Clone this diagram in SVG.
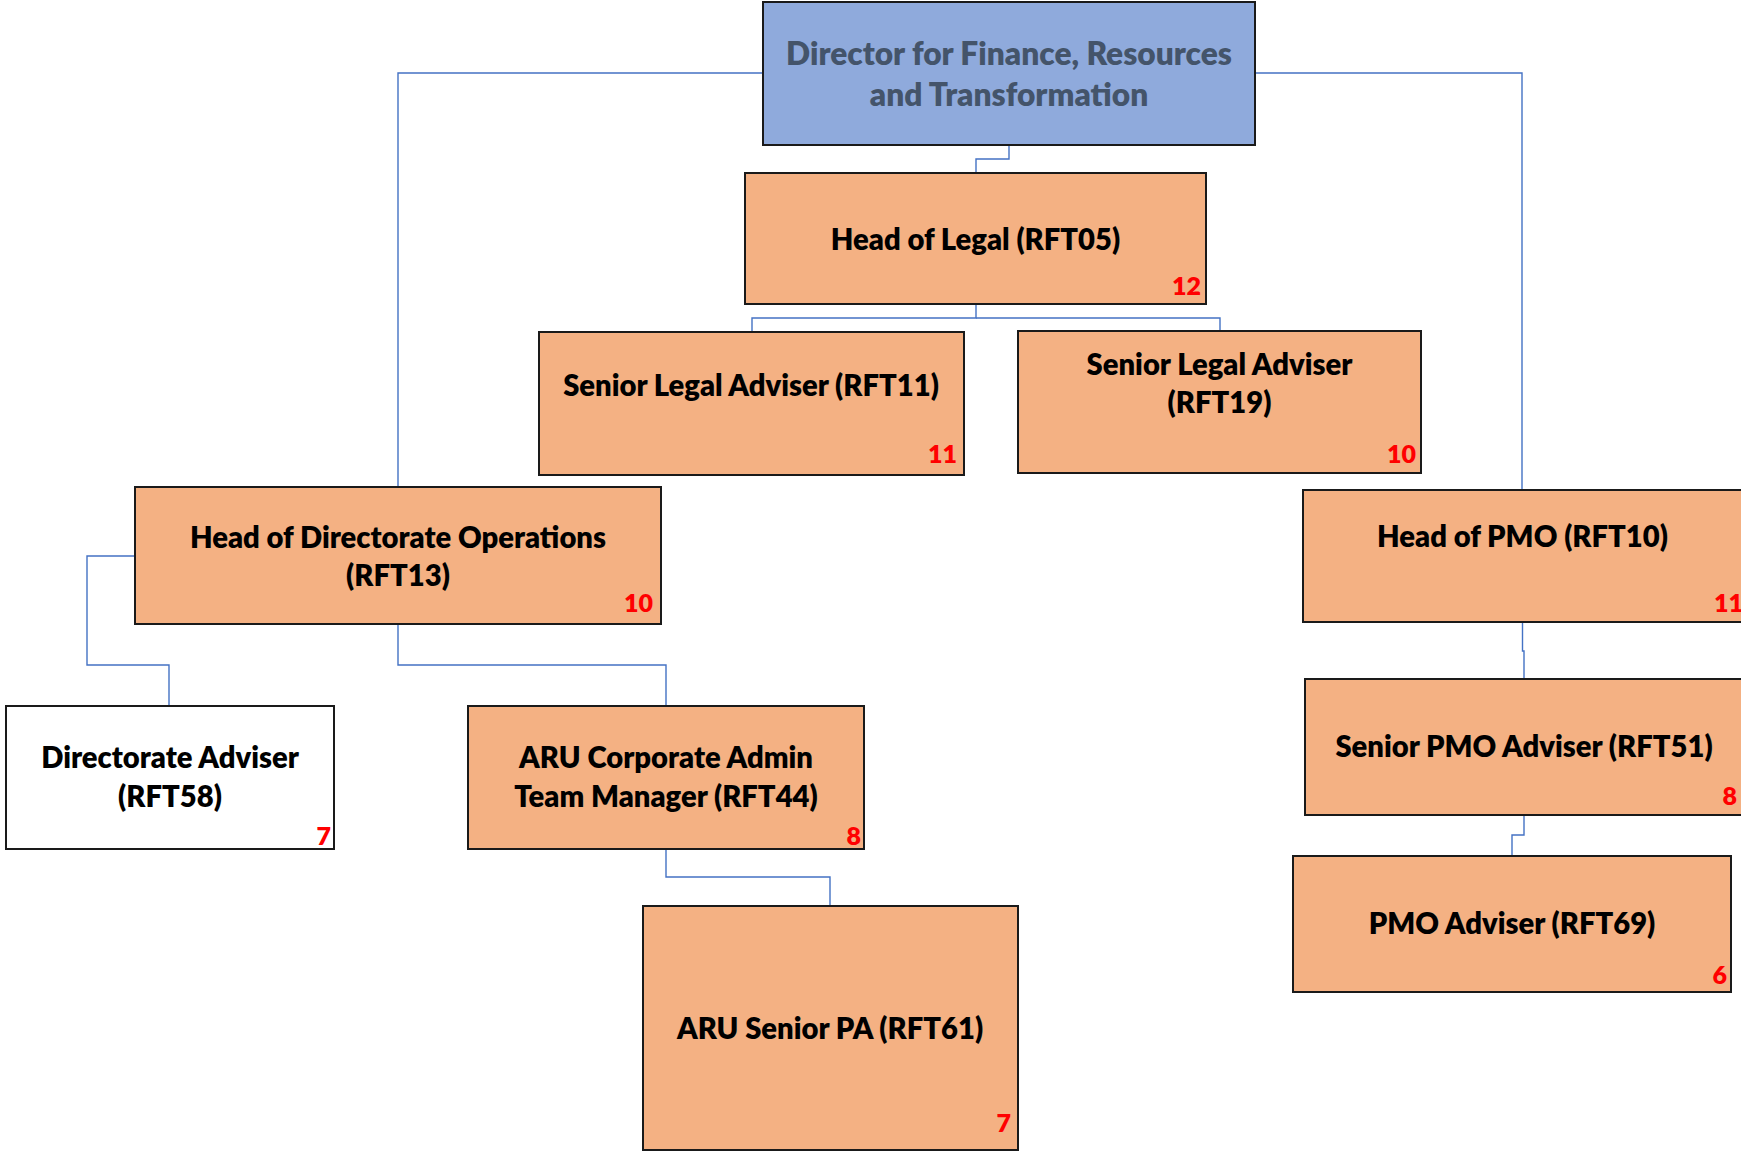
<svg xmlns="http://www.w3.org/2000/svg" width="1741" height="1153" viewBox="0 0 1741 1153">
<style>
.box{fill:#F4B183;stroke:#1a1a1a;stroke-width:2}
.dirbox{fill:#8FAADC;stroke:#1a1a1a;stroke-width:2}
.wbox{fill:#FFFFFF;stroke:#1a1a1a;stroke-width:2}
.t{font-family:Lato,"Liberation Sans",sans-serif;font-weight:800;font-size:29.2px;fill:#000;text-anchor:middle}
.dt{font-family:Lato,"Liberation Sans",sans-serif;font-weight:800;font-size:31.7px;fill:#44546A;text-anchor:middle}
.n{font-family:Lato,"Liberation Sans",sans-serif;font-weight:800;font-size:25px;fill:#FF0000;text-anchor:end}
.c{fill:none;stroke:#4472C4;stroke-width:1.4}
</style>
<rect width="1741" height="1153" fill="#FFFFFF"/>
<g id="connectors">
<path class="c" d="M1009 145 V159 H976 V173"/>
<path class="c" d="M976 304 V318 H752 V332"/>
<path class="c" d="M976 318 H1220 V331"/>
<path class="c" d="M763 73 H398 V487"/>
<path class="c" d="M1255 73 H1522 V490"/>
<path class="c" d="M1522.5 622 V651 H1524 V679"/>
<path class="c" d="M1524 815 V835 H1512 V856"/>
<path class="c" d="M135 556 H87 V665 H169 V706"/>
<path class="c" d="M398 624 V665 H666 V706"/>
<path class="c" d="M666 849 V877 H830 V906"/>
</g>
<g id="director">
<rect class="dirbox" x="763" y="2" width="492" height="143"/>
<text class="dt" x="1009" y="64.5">Director for Finance, Resources</text>
<text class="dt" x="1009" y="105.5">and Transformation</text>
</g>
<g id="head-legal">
<rect class="box" x="745" y="173" width="461" height="131"/>
<text class="t" x="975.5" y="250">Head of Legal (RFT05)</text>
<text class="n" x="1201" y="295">12</text>
</g>
<g id="senior-legal-11">
<rect class="box" x="539" y="332" width="425" height="143"/>
<text class="t" x="751" y="396">Senior Legal Adviser (RFT11)</text>
<text class="n" x="957" y="463">11</text>
</g>
<g id="senior-legal-19">
<rect class="box" x="1018" y="331" width="403" height="142"/>
<text class="t" x="1219.5" y="375">Senior Legal Adviser</text>
<text class="t" x="1219.5" y="413">(RFT19)</text>
<text class="n" x="1416" y="463">10</text>
</g>
<g id="head-directorate-ops">
<rect class="box" x="135" y="487" width="526" height="137"/>
<text class="t" x="398" y="548">Head of Directorate Operations</text>
<text class="t" x="398" y="586">(RFT13)</text>
<text class="n" x="653" y="612">10</text>
</g>
<g id="head-pmo">
<rect class="box" x="1303" y="490" width="446" height="132"/>
<text class="t" x="1522.5" y="547">Head of PMO (RFT10)</text>
<text class="n" x="1743" y="612">11</text>
</g>
<g id="senior-pmo">
<rect class="box" x="1305" y="679" width="444" height="136"/>
<text class="t" x="1524" y="757">Senior PMO Adviser (RFT51)</text>
<text class="n" x="1737" y="805">8</text>
</g>
<g id="pmo-adviser">
<rect class="box" x="1293" y="856" width="438" height="136"/>
<text class="t" x="1512" y="934">PMO Adviser (RFT69)</text>
<text class="n" x="1727" y="984">6</text>
</g>
<g id="directorate-adviser">
<rect class="wbox" x="6" y="706" width="328" height="143"/>
<text class="t" x="170" y="768">Directorate Adviser</text>
<text class="t" x="170" y="807">(RFT58)</text>
<text class="n" x="331" y="845">7</text>
</g>
<g id="aru-corporate">
<rect class="box" x="468" y="706" width="396" height="143"/>
<text class="t" x="666" y="768">ARU Corporate Admin</text>
<text class="t" x="666" y="807">Team Manager (RFT44)</text>
<text class="n" x="861" y="845">8</text>
</g>
<g id="aru-senior-pa">
<rect class="box" x="643" y="906" width="375" height="244"/>
<text class="t" x="830" y="1039">ARU Senior PA (RFT61)</text>
<text class="n" x="1011" y="1132">7</text>
</g>
</svg>
